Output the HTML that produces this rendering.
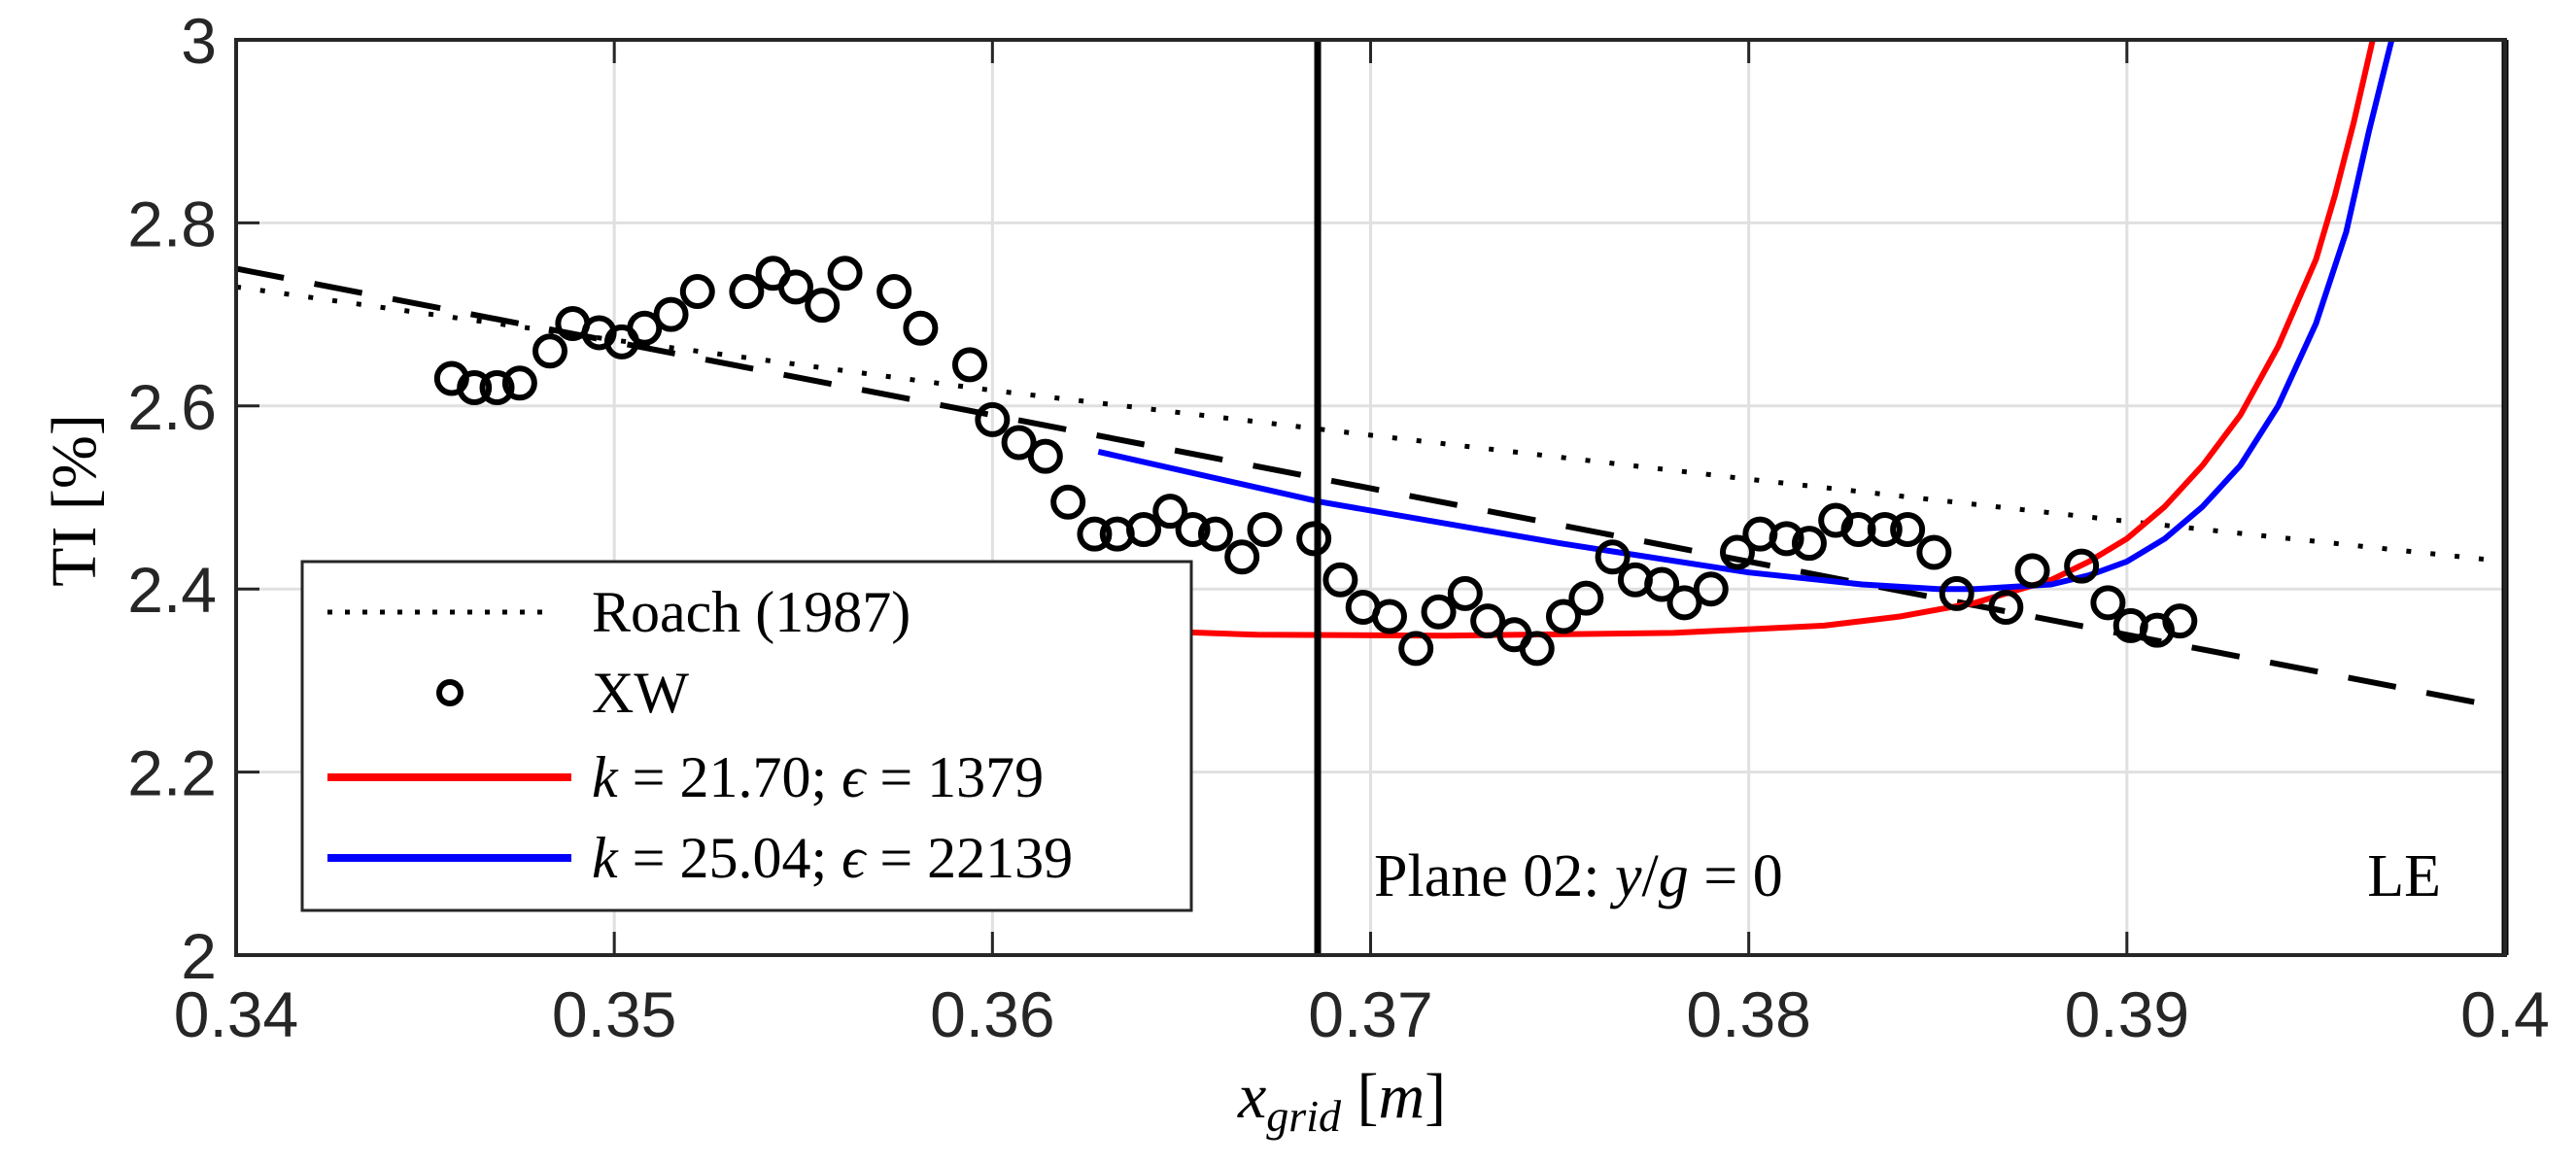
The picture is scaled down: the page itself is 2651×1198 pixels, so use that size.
<!DOCTYPE html>
<html><head><meta charset="utf-8">
<style>
html,body{margin:0;padding:0;background:#fff;}
svg{display:block;}
.tick{font-family:"Liberation Sans",sans-serif;font-size:66px;fill:#262626;}
.serif{font-family:"Liberation Serif",serif;fill:#000;}
</style></head>
<body>
<svg id="chart" width="2651" height="1198" viewBox="0 0 2651 1198" xmlns="http://www.w3.org/2000/svg">
<g id="grid"></g>
<g id="series"></g>
<g id="axes"></g>
<text class="serif" x="1414" y="922" font-size="62">Plane 02: <tspan font-style="italic">y</tspan>/<tspan font-style="italic">g</tspan> = 0</text>
<text class="serif" x="2512" y="922" font-size="62" text-anchor="end">LE</text>
<text class="serif" x="1274" y="1150" font-size="66"><tspan font-style="italic">x</tspan><tspan font-style="italic" font-size="46" dy="14">grid</tspan><tspan dy="-14"> [</tspan><tspan font-style="italic">m</tspan>]</text>
<text class="serif" transform="translate(98,515) rotate(-90)" font-size="66" text-anchor="middle">TI [%]</text>
<g id="legend">
<rect x="311" y="578" width="915" height="359" fill="#fff" stroke="#262626" stroke-width="3"/>
<line x1="337" y1="630" x2="570" y2="630" stroke="#000" stroke-width="5" stroke-dasharray="5,13"/>
<text class="serif" x="609" y="650" font-size="60">Roach (1987)</text>
<circle cx="463" cy="713" r="11" fill="none" stroke="#000" stroke-width="6"/>
<text class="serif" x="609" y="733" font-size="60">XW</text>
<line x1="337" y1="800" x2="588" y2="800" stroke="#f00" stroke-width="8"/>
<text class="serif" x="609" y="820" font-size="60"><tspan font-style="italic">k</tspan> = 21.70; <tspan font-style="italic">ϵ</tspan> = 1379</text>
<line x1="337" y1="883" x2="588" y2="883" stroke="#00f" stroke-width="8"/>
<text class="serif" x="609" y="903" font-size="60"><tspan font-style="italic">k</tspan> = 25.04; <tspan font-style="italic">ϵ</tspan> = 22139</text>
</g>
</svg>
<script>
const xTicks = [0.34, 0.35, 0.36, 0.37, 0.38, 0.39, 0.4];
const xTickLabels = ["0.34","0.35","0.36","0.37","0.38","0.39","0.4"];
const yTicks = [2, 2.2, 2.4, 2.6, 2.8, 3];
const yTickLabels = ["2","2.2","2.4","2.6","2.8","3"];
const xwX = [0.3457,0.3463,0.3469,0.3475,0.3483,0.3489,0.3496,0.3502,0.3508,0.3515,0.3522,0.3535,0.3542,0.3548,0.3555,0.3561,0.3574,0.3581,0.3594,0.3600,0.3607,0.3614,0.3620,0.3627,0.3633,0.3640,0.3647,0.3653,0.3659,0.3666,0.3672,0.3685,0.3692,0.3698,0.3705,0.3712,0.3718,0.3725,0.3731,0.3738,0.3744,0.3751,0.3757,0.3764,0.3770,0.3777,0.3783,0.3790,0.3797,0.3803,0.3810,0.3816,0.3823,0.3829,0.3836,0.3842,0.3849,0.3855,0.3868,0.3875,0.3888,0.3895,0.3901,0.3908,0.3914];
const xwY = [2.63,2.62,2.62,2.625,2.66,2.69,2.68,2.67,2.685,2.70,2.725,2.725,2.745,2.73,2.71,2.745,2.725,2.685,2.645,2.585,2.56,2.545,2.495,2.46,2.46,2.465,2.485,2.465,2.46,2.435,2.465,2.455,2.41,2.38,2.37,2.335,2.375,2.395,2.365,2.35,2.335,2.37,2.39,2.435,2.41,2.405,2.385,2.40,2.44,2.46,2.455,2.45,2.475,2.465,2.465,2.465,2.44,2.395,2.38,2.42,2.425,2.385,2.36,2.355,2.365];
const roachX = [0.34,0.35,0.36,0.37,0.38,0.39,0.4];
const roachY = [2.73,2.672,2.617,2.568,2.52,2.474,2.43];
const dashX = [0.34,0.4];
const dashY = [2.75,2.27];
const redX = [0.3628,0.367,0.372,0.378,0.382,0.384,0.386,0.388,0.389,0.390,0.391,0.392,0.393,0.394,0.395,0.3955,0.396,0.3965];
const redY = [2.356,2.35,2.349,2.352,2.36,2.37,2.385,2.41,2.43,2.455,2.49,2.535,2.59,2.665,2.76,2.83,2.91,3.0];
const blueX = [0.3628,0.3687,0.375,0.380,0.383,0.385,0.386,0.388,0.389,0.390,0.391,0.392,0.393,0.394,0.395,0.3958,0.3964,0.397];
const blueY = [2.55,2.495,2.45,2.418,2.405,2.40,2.40,2.405,2.415,2.43,2.455,2.49,2.535,2.60,2.69,2.79,2.9,3.0];
const planeX = [0.3686];

const L=243,R=2578,T=41,B=983,NS="http://www.w3.org/2000/svg";
const sx=v=>L+(v-0.34)/0.06*(R-L);
const sy=v=>B-(v-2)/1*(B-T);
function mk(tag,attrs,parent){const e=document.createElementNS(NS,tag);for(const k in attrs)e.setAttribute(k,attrs[k]);parent.appendChild(e);return e;}
const grid=document.getElementById('grid'),series=document.getElementById('series'),axes=document.getElementById('axes');
mk('rect',{x:L,y:T,width:R-L,height:B-T,fill:'#fff'},grid);
xTicks.forEach((v,i)=>{
  const g=mk('line',{x1:sx(v),y1:T,x2:sx(v),y2:B,stroke:'#e0e0e0','stroke-width':3},grid);
  
  
  const t=mk('line',{x1:sx(v),y1:B,x2:sx(v),y2:B-24,stroke:'#262626','stroke-width':3},axes);
  
  
  const t2=mk('line',{x1:sx(v),y1:T,x2:sx(v),y2:T+24,stroke:'#262626','stroke-width':3},axes);
  
  
  const lb=mk('text',{x:sx(v),y:1067,'text-anchor':'middle',class:'tick'},axes);
  lb.textContent=xTickLabels[i];
  
  
});
yTicks.forEach((v,i)=>{
  const g=mk('line',{x1:L,y1:sy(v),x2:R,y2:sy(v),stroke:'#e0e0e0','stroke-width':3},grid);
  
  
  const t=mk('line',{x1:L,y1:sy(v),x2:L+24,y2:sy(v),stroke:'#262626','stroke-width':3},axes);
  
  
  const lb=mk('text',{x:223,y:sy(v)+24,'text-anchor':'end',class:'tick'},axes);
  lb.textContent=yTickLabels[i];
  
  
});
const frame=mk('rect',{x:L,y:T,width:R-L,height:B-T,fill:'none',stroke:'#262626','stroke-width':4},axes);


function pts(xs,ys){return xs.map((x,i)=>sx(x).toFixed(1)+','+sy(ys[i]).toFixed(1)).join(' ');}
const cp=mk('clipPath',{id:'clip'},series);mk('rect',{x:L,y:T,width:R-L,height:B-T},cp);
const roach=mk('polyline',{points:pts(roachX,roachY),fill:'none',stroke:'#000','stroke-width':5,'stroke-dasharray':'5,20','clip-path':'url(#clip)'},series);


const dash=mk('polyline',{points:pts(dashX,dashY),fill:'none',stroke:'#000','stroke-width':6,'stroke-dasharray':'50,32','clip-path':'url(#clip)'},series);


const red=mk('polyline',{points:pts(redX,redY),fill:'none',stroke:'#f00','stroke-width':6,'stroke-linejoin':'round','clip-path':'url(#clip)'},series);


const blue=mk('polyline',{points:pts(blueX,blueY),fill:'none',stroke:'#00f','stroke-width':6,'stroke-linejoin':'round','clip-path':'url(#clip)'},series);


planeX.forEach(v=>{
  const l=mk('line',{x1:sx(v),y1:T,x2:sx(v),y2:B,stroke:'#000','stroke-width':7},series);
  
  
});
const le=mk('line',{x1:R,y1:T,x2:R,y2:B,stroke:'#000','stroke-width':7},series);


xwX.forEach((x,i)=>{
  const c=mk('circle',{cx:sx(x),cy:sy(xwY[i]),r:15,fill:'none',stroke:'#000','stroke-width':6},series);
  
  
});
</script>
</body></html>
